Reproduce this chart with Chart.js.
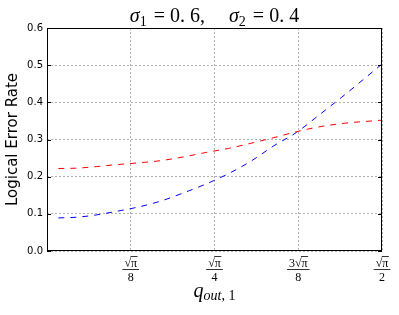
<!DOCTYPE html>
<html>
<head>
<meta charset="utf-8">
<script src="https://cdn.jsdelivr.net/npm/chart.js@4/dist/chart.umd.min.js"></script>
<style>
  html, body { margin: 0; padding: 0; background: #fff; }
</style>
</head>
<body>
<canvas id="chart" width="399" height="315"></canvas>
<script>
// q_out,1 sample points and the two error-rate curves
const qValues   = [0.03, 0.08, 0.13, 0.18, 0.24, 0.30, 0.36, 0.42, 0.48, 0.54, 0.60, 0.66, 0.72, 0.78, 0.8862];
const redRates  = [0.222, 0.223, 0.227, 0.232, 0.237, 0.243, 0.253, 0.265, 0.276, 0.290, 0.305, 0.321, 0.334, 0.343, 0.352];
const blueRates = [0.089, 0.091, 0.097, 0.106, 0.118, 0.134, 0.156, 0.180, 0.208, 0.242, 0.283, 0.319, 0.366, 0.414, 0.503];

// x ticks are multiples of sqrt(pi)/8
const tickMultiples    = [1, 2, 3, 4];
const tickNumerators   = ['√π', '√π', '3√π', '√π'];
const tickDenominators = ['8', '4', '8', '2'];

const yTicks = [0, 0.1, 0.2, 0.3, 0.4, 0.5, 0.6];

const SERIF = '"Liberation Serif", "DejaVu Serif", serif';

function drawRuns(ctx, runs, cx, baseline) {
  let total = 0;
  runs.forEach(r => {
    ctx.font = r.font;
    r.w = ctx.measureText(r.t).width;
    total += r.w + (r.gap || 0);
  });
  let x = cx - total / 2;
  ctx.textAlign = 'left';
  ctx.textBaseline = 'alphabetic';
  runs.forEach(r => {
    ctx.font = r.font;
    ctx.fillText(r.t, x, baseline + (r.dy || 0));
    x += r.w + (r.gap || 0);
  });
}

const decorations = {
  id: 'decorations',
  afterDraw(chart) {
    const { ctx, chartArea: a, scales } = chart;
    const cx = (a.left + a.right) / 2;
    ctx.save();
    ctx.fillStyle = '#000';
    ctx.strokeStyle = '#000';

    // frame
    ctx.lineWidth = 1;
    ctx.strokeRect(a.left + 0.5, a.top + 0.5, a.right - a.left - 1, a.bottom - a.top - 1);

    // inward y ticks on both sides
    yTicks.forEach(v => {
      const y = Math.round(scales.y.getPixelForValue(v)) + 0.5;
      ctx.beginPath();
      ctx.moveTo(a.left, y); ctx.lineTo(a.left + 4, y);
      ctx.moveTo(a.right, y); ctx.lineTo(a.right - 4, y);
      ctx.stroke();
    });

    // fraction tick labels under the x axis
    tickMultiples.forEach((k, i) => {
      const x = scales.x.getPixelForValue(k * Math.sqrt(Math.PI) / 8);
      const num = tickNumerators[i];
      ctx.font = '12px ' + SERIF;
      const w = ctx.measureText(num).width;
      ctx.textAlign = 'left';
      ctx.textBaseline = 'alphabetic';
      const x0 = x - w / 2;
      ctx.fillText(num, x0, 267);
      // overline of the root over pi
      const piW = ctx.measureText('π').width;
      ctx.lineWidth = 0.8;
      ctx.beginPath();
      ctx.moveTo(x0 + w - piW - 0.5, 256.5);
      ctx.lineTo(x0 + w + 0.5, 256.5);
      ctx.stroke();
      // fraction bar
      ctx.beginPath();
      ctx.moveTo(x - w / 2 - 2, 269.5);
      ctx.lineTo(x + w / 2 + 2, 269.5);
      ctx.stroke();
      ctx.textAlign = 'center';
      ctx.fillText(tickDenominators[i], x, 281);
    });

    // title
    const big = '20px ' + SERIF, bigI = 'italic 20px ' + SERIF, sub = '14px ' + SERIF;
    drawRuns(ctx, [
      { t: 'σ', font: bigI },
      { t: '1', font: sub, dy: 4, gap: 2 },
      { t: ' = 0. 6,', font: big, gap: 24 },
      { t: 'σ', font: bigI },
      { t: '2', font: sub, dy: 4, gap: 2 },
      { t: ' = 0. 4', font: big }
    ], cx, 22);

    // x axis label
    drawRuns(ctx, [
      { t: 'q', font: 'italic 20px ' + SERIF },
      { t: 'out', font: 'italic 14px ' + SERIF, dy: 3 },
      { t: ', 1', font: '14px ' + SERIF, dy: 3 }
    ], cx, 297);

    ctx.restore();
  }
};

new Chart(document.getElementById('chart'), {
  type: 'line',
  data: {
    datasets: [
      {
        label: 'red',
        data: qValues.map((q, i) => ({ x: q, y: redRates[i] })),
        borderColor: '#ff0000',
        borderWidth: 1,
        borderDash: [6, 6],
        pointRadius: 0,
        fill: false,
        cubicInterpolationMode: 'monotone'
      },
      {
        label: 'blue',
        data: qValues.map((q, i) => ({ x: q, y: blueRates[i] })),
        borderColor: '#0000ff',
        borderWidth: 1,
        borderDash: [6, 6],
        pointRadius: 0,
        fill: false,
        cubicInterpolationMode: 'monotone'
      }
    ]
  },
  options: {
    responsive: false,
    animation: false,
    devicePixelRatio: 1,
    layout: { padding: { top: 28, right: 17, left: 0, bottom: 0 } },
    plugins: { legend: { display: false }, tooltip: { enabled: false }, title: { display: false } },
    scales: {
      x: {
        type: 'linear',
        min: 0,
        max: Math.sqrt(Math.PI) / 2,
        afterBuildTicks: s => { s.ticks = tickMultiples.map(k => ({ value: k * Math.sqrt(Math.PI) / 8 })); },
        afterFit: s => { s.height = 64; },
        ticks: { display: false },
        grid: { color: '#b0b0b0', lineWidth: 1, drawTicks: false },
        border: { display: false, dash: [2, 2] }
      },
      y: {
        min: 0,
        max: 0.6,
        afterBuildTicks: s => { s.ticks = yTicks.map(v => ({ value: v })); },
        afterFit: s => { s.width = 47; },
        ticks: {
          padding: 4,
          color: '#000',
          font: { family: '"DejaVu Sans", sans-serif', size: 10 },
          callback: v => v.toFixed(1)
        },
        grid: { color: '#b0b0b0', lineWidth: 1, drawTicks: false },
        border: { display: false, dash: [2, 2] },
        title: {
          display: true,
          text: 'Logical Error Rate',
          color: '#000',
          font: { family: '"DejaVu Sans", sans-serif', size: 15 },
          padding: { top: 4, bottom: 0 }
        }
      }
    }
  },
  plugins: [decorations]
});
</script>
</body>
</html>
